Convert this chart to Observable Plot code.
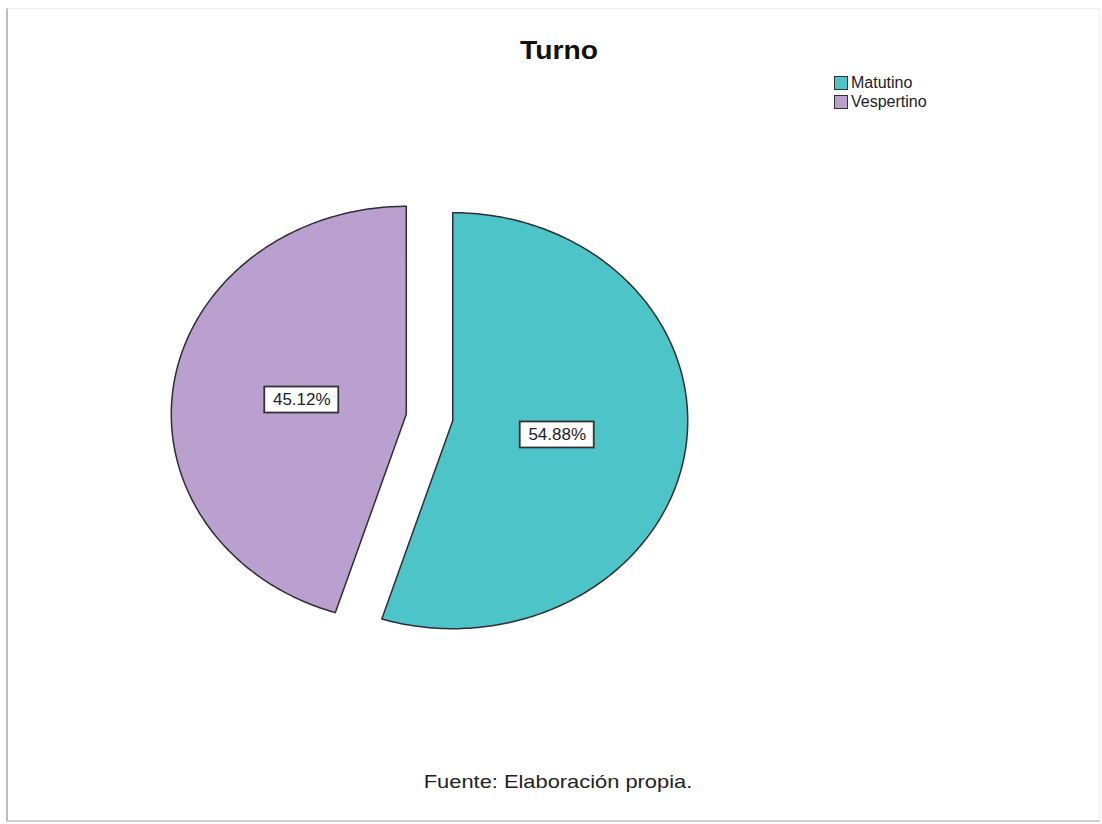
<!DOCTYPE html>
<html><head><meta charset="utf-8">
<script src="https://cdn.jsdelivr.net/npm/d3@7"></script>
<script src="https://cdn.jsdelivr.net/npm/@observablehq/plot@0.6"></script>
<style>
body{margin:0;background:#fff;font-family:"Liberation Sans",Arial,sans-serif;}
#wrap{position:relative;width:1102px;height:824px;overflow:hidden;}
#frame{position:absolute;left:6px;top:8px;width:1094px;height:814px;box-sizing:border-box;border:1px solid #ececec;border-left:2px solid #bdbdbd;border-bottom:2px solid #d0d0d0;}
#chart{position:absolute;left:0;top:0;}
#title{position:absolute;left:0;width:1118px;top:36px;text-align:center;font-weight:bold;font-size:25px;color:#111;transform:scaleX(1.13);transform-origin:559px 0;}
#legend{position:absolute;left:834px;top:73px;font-size:16px;color:#222;line-height:19px;}
#legend .it{display:flex;align-items:center;height:19px;}
#legend .sw{width:12px;height:12px;border:1px solid #333;margin-right:3px;}
#caption{position:absolute;left:0;width:1116px;top:771px;text-align:center;font-size:19px;color:#222;transform:scaleX(1.15);transform-origin:558px 0;}
</style></head>
<body>
<div id="wrap">
<div id="frame"></div>
<div id="chart"></div>
<div id="title">Turno</div>
<div id="legend"></div>
<div id="caption">Fuente: Elaboración propia.</div>
</div>
<script>
const categories = ["Matutino", "Vespertino"];
const percents = [54.88, 45.12];
const colors = ["#4CC4C8", "#B9A0CF"];

// geometry helpers (unit pie, clockwise from top)
const explode = 0.1;
const labelR = 0.45;
const poly = [];
const labels = [];
let acc = 0;
categories.forEach((cat, i) => {
  const a0 = acc / 100 * 2 * Math.PI;
  acc += percents[i];
  const a1 = acc / 100 * 2 * Math.PI;
  const m = (a0 + a1) / 2;
  const ox = explode * Math.sin(m), oy = explode * Math.cos(m);
  poly.push({cat, x: ox, y: oy});
  const n = 200;
  for (let k = 0; k <= n; k++) {
    const a = a0 + (a1 - a0) * k / n;
    poly.push({cat, x: ox + Math.sin(a), y: oy + Math.cos(a)});
  }
  poly.push({cat, x: ox, y: oy});
  labels.push({cat, x: ox + labelR * Math.sin(m), y: oy + labelR * Math.cos(m), text: percents[i].toFixed(2) + "%"});
});

const rx = 235, ry = 208, cx = 429, cy = 417;
const bw = 37 / rx, bh = 13 / ry;

const chart = Plot.plot({
  width: 1102, height: 824,
  margin: 0,
  x: {domain: [-1, 1], range: [cx - rx, cx + rx], axis: null},
  y: {domain: [-1, 1], range: [cy + ry, cy - ry], axis: null},
  color: {domain: categories, range: colors},
  style: {background: "transparent", fontFamily: "'Liberation Sans', Arial, sans-serif"},
  marks: [
    Plot.line(poly, {x: "x", y: "y", z: "cat", fill: "cat", stroke: "#2e2e36", strokeWidth: 1.5, strokeLinejoin: "round", curve: "linear"}),
    Plot.rect(labels, {x1: d => d.x - bw, x2: d => d.x + bw, y1: d => d.y - bh, y2: d => d.y + bh, fill: "white", stroke: "#333", strokeWidth: 1.8}),
    Plot.text(labels, {x: "x", y: "y", text: "text", fontSize: 17, fill: "#222"})
  ]
});
document.getElementById("chart").appendChild(chart);

const leg = document.getElementById("legend");
categories.forEach((c, i) => {
  const it = document.createElement("div");
  it.className = "it";
  it.innerHTML = `<div class="sw" style="background:${colors[i]}"></div><span>${c}</span>`;
  leg.appendChild(it);
});
</script>
</body></html>
